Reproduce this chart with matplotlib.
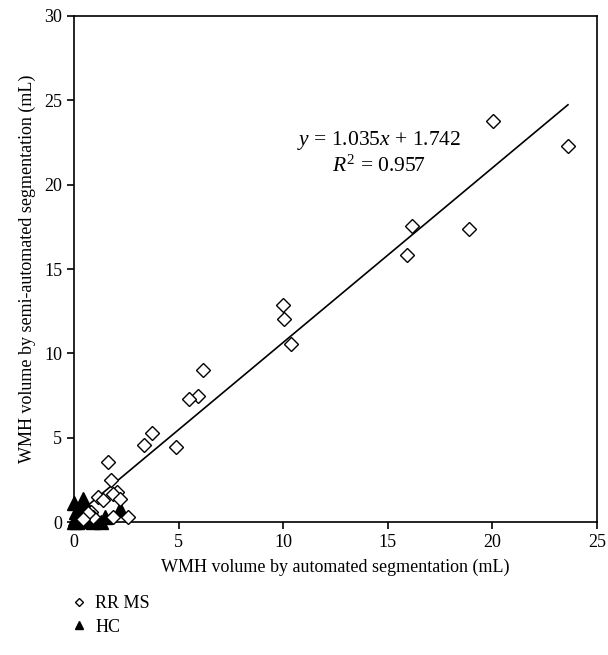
import matplotlib
matplotlib.use("Agg")
import matplotlib.pyplot as plt
import numpy as np

# ------------ DATA ----------------------------

# RR MS patients: automated vs semi-automated WMH volume (mL)
rrms_auto = [23.61, 20.03, 16.16, 18.88, 15.92, 10.00, 10.04, 10.37, 6.15, 5.91,
             5.50, 3.71, 3.35, 4.89, 1.64, 1.75, 2.07, 1.88, 2.20, 1.13,
             1.40, 2.60, 1.85, 0.80, 0.92, 0.68, 0.45]
rrms_semi = [22.29, 23.77, 17.55, 17.37, 15.83, 12.85, 12.05, 10.55, 9.03, 7.49,
             7.29, 5.29, 4.55, 4.43, 3.54, 2.49, 1.80, 1.64, 1.36, 1.46,
             1.30, 0.28, 0.28, 0.61, 0.31, 0.55, 0.20]

# healthy controls
hc_auto = [0.00, 0.45, 0.40, 0.10, 0.05, 0.20, 0.30, 0.50, 0.70, 1.05,
           1.50, 0.15, 0.00, 2.20, 0.60, 0.25, 0.35, 0.90, 1.30]
hc_semi = [1.10, 1.35, 0.90, 0.60, 0.20, 0.30, 0.10, 0.05, 0.05, 0.20,
           0.30, 0.00, 0.00, 0.80, 0.40, 0.70, 0.45, 0.00, 0.00]

# trend line as drawn, and its printed equation
fit_slope = 1.035
fit_offset = 0.30
eq_text = r'$y$ = 1.035$x$ + 1.742'
r2_text = r'$R^2$ = 0.957'

# ------------ PLOT ----------------------------

plt.rcParams['font.family'] = ['Liberation Serif', 'DejaVu Serif']
plt.rcParams['mathtext.fontset'] = 'custom'
plt.rcParams['mathtext.rm'] = 'Liberation Serif'
plt.rcParams['mathtext.it'] = 'Liberation Serif:italic'

fig = plt.figure(figsize=(6.08, 6.55), dpi=100)
ax = fig.add_axes([0.1217, 0.203, 0.8603, 0.7726])

ax.plot(hc_auto, hc_semi, linestyle='none', marker='^', markersize=10,
        color='black', label='HC', zorder=3, clip_on=False)
ax.plot(rrms_auto, rrms_semi, linestyle='none', marker='D', markersize=7,
        markerfacecolor='white', markeredgecolor='black', markeredgewidth=1.0,
        label='RR MS', zorder=4, clip_on=False)

xx = np.array([min(rrms_auto), max(rrms_auto)])
ax.plot(xx, fit_slope * xx + fit_offset, color='black', linewidth=1.2, zorder=2)

ax.text(14.6, 22.6, eq_text, fontsize=15.5, ha='center', va='center')
ax.text(14.6, 21.1, r2_text, fontsize=15.5, ha='center', va='center')

ax.set_xlim(0, 25)
ax.set_ylim(0, 30)
ax.set_xticks(range(0, 26, 5))
ax.set_yticks(range(0, 31, 5))
ax.tick_params(direction='out', length=5, width=1.2, labelsize=13,
               top=False, right=False)
for s in ax.spines.values():
    s.set_linewidth(1.2)

ax.set_xlabel('WMH volume by automated segmentation (mL)', fontsize=13, labelpad=6)
ax.set_ylabel('WMH volume by semi-automated segmentation (mL)', fontsize=13, labelpad=6)

handles, labels = ax.get_legend_handles_labels()
fig.legend(handles[::-1], labels[::-1], loc='upper left', bbox_to_anchor=(0.1, 0.105),
           frameon=False, fontsize=13, markerscale=0.55, handlelength=1.0,
           handletextpad=0.4, labelspacing=0.35, borderpad=0)

fig.savefig('out.png', dpi=100)
